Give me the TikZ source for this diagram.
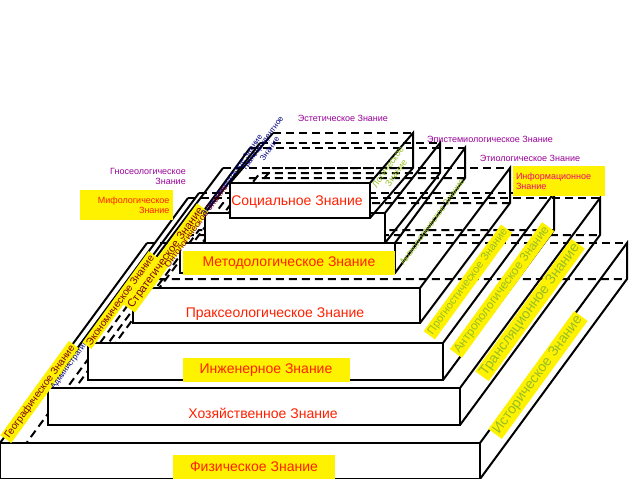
\documentclass[tikz,border=0pt]{standalone}
\usepackage{fontspec}
\setmainfont{Liberation Sans}
\begin{document}
\begin{tikzpicture}[x=1pt,y=-1pt,
  edge/.style={line width=2pt,black},
  hid/.style={line width=2pt,black,dash pattern=on 8pt off 5pt},
  big/.style={font=\fontsize{14}{15}\selectfont,text=red!75!orange,inner sep=2pt},
  ybox/.style={fill=yellow},
  small/.style={font=\fontsize{9}{10}\selectfont,inner sep=1pt},
  purp/.style={small,text=violet!80!magenta},
  rot/.style={rotate=54,fill=yellow,inner sep=2pt,text=yellowgreen},
  blu/.style={rotate=54,font=\fontsize{8}{9}\selectfont,inner sep=1pt,text=blue!50!black}]
\definecolor{yellowgreen}{RGB}{150,190,40}
\useasboundingbox (0,0) rectangle (638,479);
\clip (0,0) rectangle (638,479);
\newcommand\slab[6]{%
  \draw[hid] ({#1+#5},{#2-#6}) -- ({#3+#5},{#2-#6});
  \draw[hid] ({#1},{#4}) -- ({#1+#5},{#4-#6}) -- ({#3+#5},{#4-#6});
  \draw[edge] ({#1},{#2}) -- ({#1+#5},{#2-#6});
  \draw[edge] ({#3},{#2}) -- ({#3+#5},{#2-#6}) -- ({#3+#5},{#4-#6}) -- ({#3},{#4});
  \draw[edge,fill=white] ({#1},{#2}) rectangle ({#3},{#4});
}
\slab{0}{443}{480}{479}{147}{200}
\slab{48}{388}{460}{425}{140}{190}
\slab{88}{343}{443}{380}{111}{150}
\slab{133}{288}{420}{323}{90}{120}
\slab{180}{243}{395}{273}{70}{95}
\slab{205}{213}{385}{243}{55}{70}
\slab{230}{183}{370}{218}{43}{50}
% front labels
\node[big,ybox,minimum width=162pt,minimum height=24pt] (fiz) at (254,467) {Физическое Знание};
\node[big] (hoz) at (263,413) {Хозяйственное Знание};
\node[big,ybox,minimum width=167pt,minimum height=24pt] (ing) at (266,370) {Инженерное Знание};
\node[big] (prak) at (275,314) {Праксеологическое Знание};
\node[big,ybox,minimum width=212pt,minimum height=24pt] (met) at (289,263) {Методологическое Знание};
\node[big] (soc) at (297,202) {Социальное Знание};
% top labels
\node[purp] (est) at (343,118) {Эстетическое Знание};
\node[purp] (epi) at (490,139) {Эпистемиологическое Знание};
\node[purp] (eti) at (530,158) {Этиологическое Знание};
\node[small,ybox,text=magenta!70!red,align=left,minimum width=92pt,minimum height=30pt,text width=86pt] (inf) at (559,181) {Информационное\\Знание};
\node[purp,align=right] (gno) at (148,176) {Гносеологическое\\Знание};
\node[small,ybox,text=red!75!orange,align=right,minimum width=93pt,minimum height=30pt,text width=87pt] (mif) at (126,205) {Мифологическое\\Знание};
% left slope labels
\node[rot,text=red!50!black,font=\fontsize{10}{11}\selectfont] (geo) at (40,392) {Географическое Знание};
\node[blu] (adm) at (82,348) {Административное Знание};
\node[rot,text=red!50!black,font=\fontsize{10}{11}\selectfont] (eko) at (120,300) {Экономическое Знание};
\node[rot,text=red!50!black,font=\fontsize{11}{12}\selectfont] (str) at (166,258) {Стратегическое Знание};
\node[rot,fill=none,text=red!50!black,font=\fontsize{9}{10}\selectfont] (ont) at (196,226) {Онтологическое Знание};
\node[blu] (eks) at (232,176) {Экзистенциальное Знание};
\node[blu,align=center] (tra) at (266,146) {Трансцендентное\\Знание};
% right slope labels
\node[rot,font=\fontsize{11}{12}\selectfont] (prog) at (468,282) {Прогностическое Знание};
\node[rot,font=\fontsize{12}{13}\selectfont] (ant) at (502,290) {Антропологическое Знание};
\node[rot,font=\fontsize{14}{15}\selectfont] (trn) at (530,310) {Трансляционное Знание};
\node[rot,font=\fontsize{14}{15}\selectfont] (ist) at (538,375) {Историческое Знание};
\node[rot,fill=none,small] (aks) at (432,222) {Аксиологическое Знание};
\node[rot,fill=none,small,align=center] (log) at (392,170) {Логическое\\Знание};
\end{tikzpicture}
\end{document}
